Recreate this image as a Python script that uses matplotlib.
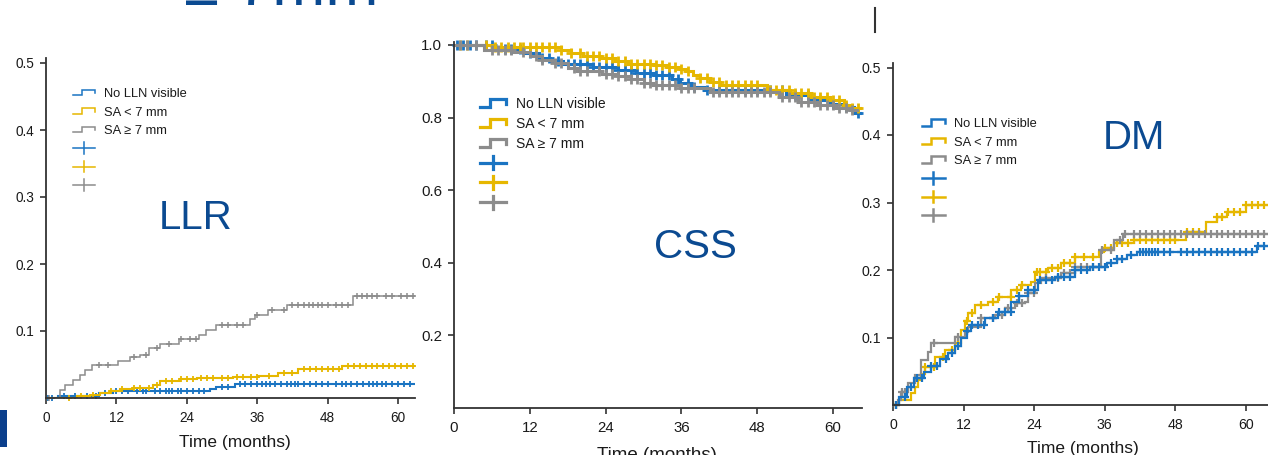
import numpy as np
import matplotlib
matplotlib.use("Agg")
import matplotlib.pyplot as plt
from matplotlib.lines import Line2D
from matplotlib.patches import Rectangle
from matplotlib.legend_handler import HandlerBase

plt.rcParams['font.family'] = ['Liberation Sans', 'DejaVu Sans']

# ---------------- data ----------------
GROUPS = ["No LLN visible", "SA < 7 mm", "SA \u2265 7 mm"]
COLORS = ["#1A74C2", "#E6B700", "#8C8C8C"]
MONTH_TICKS = [0, 12, 24, 36, 48, 60]
PANEL_TITLES = ["LLR", "CSS", "DM"]

# LLR (cumulative incidence)
llr_blue_t = [0, 2, 9, 11.5, 18, 28, 29, 32.2]
llr_blue_v = [0, 0.003, 0.007, 0.010, 0.011, 0.014, 0.017, 0.021]
llr_blue_c = [0.3, 1, 3, 5, 7, 8.5, 10, 12, 13, 14, 15.5, 16.5, 17, 18.5, 19.5, 20.5, 21, 21.5,
              22.5, 23, 24, 25, 26, 27, 30, 31, 33, 34, 35, 36, 36.8, 37.5, 38.2, 39, 40, 41,
              41.7, 42.5, 43, 44, 45, 46, 47, 48, 49.5, 50.5, 51.2, 52, 53, 54, 55, 55.8, 56.5,
              57.2, 58, 59, 60, 61, 62]
llr_yel_t = [0, 5.3, 7.5, 9.2, 10.9, 12.6, 14.8, 18.3, 19.4, 22.8, 25.7, 31.9, 36.1, 39.5, 43, 50.4]
llr_yel_v = [0, 0.003, 0.005, 0.007, 0.010, 0.014, 0.015, 0.019, 0.025, 0.028, 0.030, 0.032,
             0.033, 0.037, 0.043, 0.048]
llr_yel_c = [4, 6, 8, 11, 13, 15, 16, 17.5, 19, 20.5, 21.5, 23, 24, 25, 26.5, 27.5, 28.5, 30, 31,
             32.5, 33.5, 35, 36, 38, 40.5, 42, 44, 45, 46, 47, 48, 49, 50, 51.5, 52.5, 53.5,
             54.5, 55.5, 56.5, 57.5, 58.5, 59.5, 60.5, 61.5, 62.5]
llr_gray_t = [0, 2.4, 3.2, 4.6, 5.8, 6.6, 7.8, 12.3, 14.3, 16.0, 17.5, 19.5, 22.6, 26.0, 27.3,
              29.0, 34.8, 35.6, 37.9, 41.0, 52.3]
llr_gray_v = [0, 0.012, 0.019, 0.027, 0.034, 0.042, 0.049, 0.055, 0.061, 0.064, 0.075, 0.081,
              0.088, 0.094, 0.101, 0.109, 0.118, 0.124, 0.131, 0.139, 0.152]
llr_gray_c = [0.5, 9, 10.5, 15, 17, 19, 21, 23, 24.5, 25.5, 30, 31, 32.5, 33.5, 36, 38.5, 40.5,
              42, 43, 44, 44.8, 45.5, 46.3, 47, 48, 49.5, 50.5, 51.5, 53, 53.8, 54.8, 55.5, 56.5,
              58, 59, 60.5, 61.5, 62.5]

# CSS (survival)
css_blue_t = [0, 6.2, 11, 13.5, 15.2, 17.2, 22, 26, 28.8, 31.7, 34.5, 35.8, 37.5, 39.5, 52.6,
              56.2, 59.5, 62.0, 63.3]
css_blue_v = [1.0, 0.990, 0.978, 0.964, 0.955, 0.948, 0.940, 0.930, 0.923, 0.916, 0.906, 0.895,
              0.885, 0.876, 0.862, 0.848, 0.838, 0.829, 0.813]
css_blue_c = [0.5, 1.5, 2.5, 3.5, 5, 6, 8, 9, 10.5, 12, 14, 15, 16.5, 18, 19, 20, 21, 22, 23, 24,
              25, 26, 27, 28, 29, 30, 31, 32, 33, 34, 35.5, 37, 38, 40, 42, 44, 46, 48, 50, 52,
              54, 56, 58, 60, 62, 64]
css_yel_t = [0, 6, 17, 18.5, 20.5, 23.3, 25.5, 27.5, 31.6, 33.7, 35.8, 36.8, 37.9, 38.9, 40.5,
             42.1, 49.5, 53.2, 56.5, 59.6, 61.8, 63.0]
css_yel_v = [1.0, 0.995, 0.985, 0.978, 0.970, 0.964, 0.955, 0.948, 0.944, 0.939, 0.933, 0.927,
             0.917, 0.908, 0.898, 0.890, 0.876, 0.868, 0.857, 0.848, 0.835, 0.826]
css_yel_c = [1, 2, 5, 6.5, 7.5, 8.5, 9.5, 10.5, 11, 12, 13, 14, 15, 16, 17, 18.5, 20, 21, 22, 23,
             24, 25, 26, 27, 28, 29, 30, 31, 32, 33, 34, 35, 36, 37, 39, 40, 41, 42, 43, 44, 45,
             46, 47, 48, 50, 51, 52, 53, 54, 55, 56, 57, 58, 59, 60, 61, 62, 63, 64]
css_gray_t = [0, 4.8, 9.5, 12, 14, 16, 18, 19.5, 23.5, 26, 28, 30, 31.5, 35.8, 40.5, 51.5, 54.5,
              57.5, 60.5, 62.7]
css_gray_v = [1.0, 0.986, 0.980, 0.970, 0.958, 0.950, 0.937, 0.928, 0.920, 0.914, 0.905, 0.895,
              0.890, 0.881, 0.870, 0.857, 0.843, 0.835, 0.826, 0.821]
css_gray_c = [1, 2, 3.5, 6, 7, 8, 9, 11, 13, 14, 16, 17, 19, 20, 21, 23, 24, 25, 26, 27, 28, 29,
              30, 31, 32, 33, 34, 35, 36, 37, 38, 41, 42, 43, 44, 45, 46, 47, 48, 49, 50, 52, 53,
              54, 55, 56, 57, 58, 59, 60, 61, 62, 63]

# DM (cumulative incidence)
dm_blue_t = [0, 1.0, 2.3, 3.5, 5.2, 6.5, 8, 9.3, 10.5, 11.6, 12.5, 13.3, 15.6, 17.8, 20.1, 21.5,
             23, 24.6, 27.5, 30.9, 33.5, 36.3, 38, 39.7, 41.4, 61.8]
dm_blue_v = [0, 0.012, 0.027, 0.040, 0.049, 0.058, 0.068, 0.077, 0.088, 0.099, 0.110, 0.119,
             0.129, 0.138, 0.153, 0.161, 0.170, 0.185, 0.190, 0.200, 0.205, 0.210, 0.217, 0.222,
             0.227, 0.236]
dm_blue_c = [0.5, 2, 3, 4, 5, 6.5, 7.5, 9, 10, 11, 12.5, 13.5, 14.5, 15.5, 17, 18, 19, 20, 21.5,
             23, 24, 25, 26, 27, 28, 29, 30, 31, 32, 33, 34, 35, 36, 37, 38, 39, 40.5, 42, 42.5,
             43, 43.5, 44, 44.5, 45, 46, 47, 49, 50, 51, 52, 53, 54, 55, 56, 57, 58, 59, 60, 61,
             62, 63]
dm_yel_t = [0, 1.0, 3.1, 3.7, 4.2, 4.8, 5.4, 7.1, 8.8, 10.5, 11.6, 12.2, 12.7, 13.9, 16.1, 17.8,
            20.1, 21.8, 23.5, 24.1, 26.3, 28.5, 30.9, 35.0, 35.8, 37.5, 41.0, 49.8, 53.2, 55.0,
            56.7, 60.0]
dm_yel_v = [0, 0.007, 0.018, 0.027, 0.037, 0.046, 0.056, 0.071, 0.081, 0.092, 0.111, 0.124,
            0.136, 0.148, 0.153, 0.160, 0.170, 0.178, 0.182, 0.197, 0.203, 0.210, 0.219, 0.226,
            0.233, 0.240, 0.244, 0.256, 0.271, 0.279, 0.286, 0.296]
dm_yel_c = [0.5, 5.5, 7, 8.5, 10, 11, 12.5, 13.5, 15, 17, 18, 20, 21, 22, 24.5, 25, 26, 27, 28,
            29, 30, 31, 32.5, 34, 36, 37, 38, 39, 40, 41, 42, 43, 44, 45, 46, 47, 48, 50, 51, 52,
            55, 56, 57, 58, 59, 60, 61, 62, 63]
dm_gray_t = [0, 0.8, 1.4, 2.5, 3.7, 4.8, 5.9, 6.5, 10.5, 12.2, 12.7, 15, 17.3, 19, 20.7, 22.5,
             23, 24.1, 25.2, 28.5, 30.9, 35.3, 37.5, 39.1]
dm_gray_v = [0, 0.008, 0.019, 0.032, 0.044, 0.067, 0.078, 0.092, 0.101, 0.108, 0.116, 0.129,
             0.133, 0.144, 0.151, 0.153, 0.166, 0.181, 0.188, 0.195, 0.205, 0.230, 0.244, 0.254]
dm_gray_c = [0.5, 1.5, 2, 7, 11, 15, 17, 18.5, 19.5, 21, 22, 23, 24, 26, 28, 29, 30, 31, 32, 33,
             34, 35.5, 37, 38.5, 39.5, 41, 42, 43, 44, 45, 46, 47, 48, 49, 50, 51, 52, 53, 54,
             55, 56, 57, 58, 59, 60, 61, 62, 63]

# ---------------- figure ----------------
W, H = 1268, 455
fig = plt.figure(figsize=(W / 100, H / 100), dpi=100)
fig.patch.set_facecolor("white")
NAVY = "#0B4A91"
AXC = "#333333"
TXT = "#1A1A1A"


class StepHandler(HandlerBase):
    def __init__(self, hpt):
        super().__init__()
        self.hpt = hpt

    def create_artists(self, legend, orig, xd, yd, width, height, fontsize, trans):
        x0 = -xd
        cy = -yd + height / 2
        h = self.hpt
        xs = [x0, x0 + 0.4 * width, x0 + 0.4 * width, x0 + width, x0 + width]
        ys = [cy - h / 2, cy - h / 2, cy + h / 2, cy + h / 2, cy - h * 0.1]
        ln = Line2D(xs, ys, color=orig.get_color(), lw=orig.get_linewidth(),
                    solid_joinstyle="miter", transform=trans)
        return [ln]


class PlusHandler(HandlerBase):
    def __init__(self, hpt):
        super().__init__()
        self.hpt = hpt

    def create_artists(self, legend, orig, xd, yd, width, height, fontsize, trans):
        x0 = -xd
        cy = -yd + height / 2
        h = self.hpt
        l1 = Line2D([x0, x0 + width], [cy, cy], color=orig.get_color(),
                    lw=orig.get_linewidth(), transform=trans)
        l2 = Line2D([x0 + width / 2] * 2, [cy - h / 2, cy + h / 2], color=orig.get_color(),
                    lw=orig.get_linewidth(), transform=trans)
        return [l1, l2]


def make_ax(left, right, bottom, top, ppm, ppu):
    ax = fig.add_axes([left / W, 1 - bottom / H, (right - left) / W, (bottom - top) / H])
    ax.set_xlim(0, (right - left) / ppm)
    ax.set_ylim(0, (bottom - top) / ppu)
    for s in ("top", "right"):
        ax.spines[s].set_visible(False)
    for s in ("left", "bottom"):
        ax.spines[s].set_color(AXC)
        ax.spines[s].set_linewidth(1.3)
    ax.set_facecolor("white")
    return ax


def km_value(t, times, vals):
    idx = np.searchsorted(np.asarray(times), np.asarray(t), side="right") - 1
    return np.asarray(vals)[idx]


def draw_km(ax, times, vals, censor, color, end, lw, ms, mew):
    tt = list(times) + [end]
    vv = list(vals) + [vals[-1]]
    ax.step(tt, vv, where="post", color=color, lw=lw, solid_joinstyle="miter")
    ax.plot(censor, km_value(censor, times, vals), ls="none", marker="+", ms=ms,
            mew=mew, color=color, clip_on=False)


def style_ticks(ax, yticks, fs, ylabels):
    ax.set_xticks(MONTH_TICKS)
    ax.set_xticklabels([str(m) for m in MONTH_TICKS])
    ax.set_yticks(yticks)
    ax.set_yticklabels(ylabels)
    ax.tick_params(axis="both", colors=AXC, labelcolor=TXT, labelsize=fs, length=4.5,
                   width=1.2, direction="out")
    ax.tick_params(axis="x", pad=5)
    ax.tick_params(axis="y", pad=4)


def add_legend(ax, x_px, y_px, fs, spacing, lw, step_h, plus_h, hlen, hpad):
    step_handles = [Line2D([], [], color=c, lw=lw) for c in COLORS]
    plus_handles = [Line2D([], [], color=c, lw=lw) for c in COLORS]
    hm = {h: StepHandler(step_h) for h in step_handles}
    hm.update({h: PlusHandler(plus_h) for h in plus_handles})
    leg = ax.legend(step_handles + plus_handles, GROUPS + [" ", " ", " "],
                    handler_map=hm, loc="upper left",
                    bbox_to_anchor=(x_px / W, 1 - y_px / H), bbox_transform=fig.transFigure,
                    frameon=False, borderpad=0, borderaxespad=0, fontsize=fs,
                    labelspacing=spacing, handlelength=hlen, handletextpad=hpad,
                    handleheight=0.7)
    for t in leg.get_texts():
        t.set_color(TXT)
    return leg


def xlabel(ax, x_px, y_px, fs):
    fig.text(x_px / W, 1 - y_px / H, "Time (months)", fontsize=fs, color=TXT,
             ha="center", va="center")


# ---- Panel 1: LLR ----
ax1 = make_ax(46, 415, 398, 58, 70.4 / 12, 670)
end1 = ax1.get_xlim()[1]
draw_km(ax1, llr_blue_t, llr_blue_v, llr_blue_c, COLORS[0], end1, 1.5, 5, 1.3)
draw_km(ax1, llr_yel_t, llr_yel_v, llr_yel_c, COLORS[1], end1, 1.5, 5, 1.3)
draw_km(ax1, llr_gray_t, llr_gray_v, llr_gray_c, COLORS[2], end1, 1.1, 5, 1.1)
style_ticks(ax1, [0.1, 0.2, 0.3, 0.4, 0.5], 9.8, ["0.1", "0.2", "0.3", "0.4", "0.5"])
add_legend(ax1, 73, 88, 9.3, 0.50, 1.1, 4.0, 8.5, 1.7, 0.7)
xlabel(ax1, 235, 442, 12.5)
fig.text(196 / W, 1 - 218 / H, PANEL_TITLES[0], fontsize=29, color=NAVY,
         ha="center", va="center")

# ---- Panel 2: CSS ----
ax2 = make_ax(454, 862, 408, 42, 75.8 / 12, 363)
draw_km(ax2, css_blue_t, css_blue_v, css_blue_c, COLORS[0], 64.3, 2.2, 6.5, 2.0)
draw_km(ax2, css_yel_t, css_yel_v, css_yel_c, COLORS[1], 64.5, 2.2, 6.5, 2.0)
draw_km(ax2, css_gray_t, css_gray_v, css_gray_c, COLORS[2], 63.8, 2.2, 6.5, 2.0)
style_ticks(ax2, [0.2, 0.4, 0.6, 0.8, 1.0], 10.8, ["0.2", "0.4", "0.6", "0.8", "1.0"])
add_legend(ax2, 480, 97, 10, 0.42, 2.3, 5.5, 9, 1.85, 0.75)
xlabel(ax2, 657, 456, 13.5)
fig.text(695 / W, 1 - 247 / H, PANEL_TITLES[1], fontsize=29, color=NAVY,
         ha="center", va="center")

# ---- Panel 3: DM ----
ax3 = make_ax(893, 1268, 405, 63, 70.6 / 12, 675)
end3 = ax3.get_xlim()[1]
draw_km(ax3, dm_yel_t, dm_yel_v, dm_yel_c, COLORS[1], end3, 1.6, 6, 1.6)
draw_km(ax3, dm_gray_t, dm_gray_v, dm_gray_c, COLORS[2], end3, 1.6, 6, 1.6)
draw_km(ax3, dm_blue_t, dm_blue_v, dm_blue_c, COLORS[0], end3, 1.6, 6, 1.6)
style_ticks(ax3, [0.1, 0.2, 0.3, 0.4, 0.5], 10.2, ["0.1", "0.2", "0.3", "0.4", "0.5"])
add_legend(ax3, 922, 118, 9.3, 0.50, 1.8, 5.0, 8.5, 1.75, 0.7)
xlabel(ax3, 1083, 449, 12.5)
fig.text(1134 / W, 1 - 138 / H, PANEL_TITLES[2], fontsize=29, color=NAVY,
         ha="center", va="center")

# ---- slide decorations ----
fig.text(184 / W, 1 - 5 / H, "\u2265 7mm", fontsize=46, color=NAVY, ha="left", va="baseline")
fig.add_artist(Line2D([875 / W, 875 / W], [1 - 8 / H, 1 - 32 / H], transform=fig.transFigure,
                      color="#333333", lw=1.5))
fig.add_artist(Rectangle((0, 1 - 447 / H), 7 / W, 37 / H, transform=fig.transFigure,
                         color="#0B3F8C", lw=0))

fig.savefig("out.png", dpi=100, facecolor="white")
